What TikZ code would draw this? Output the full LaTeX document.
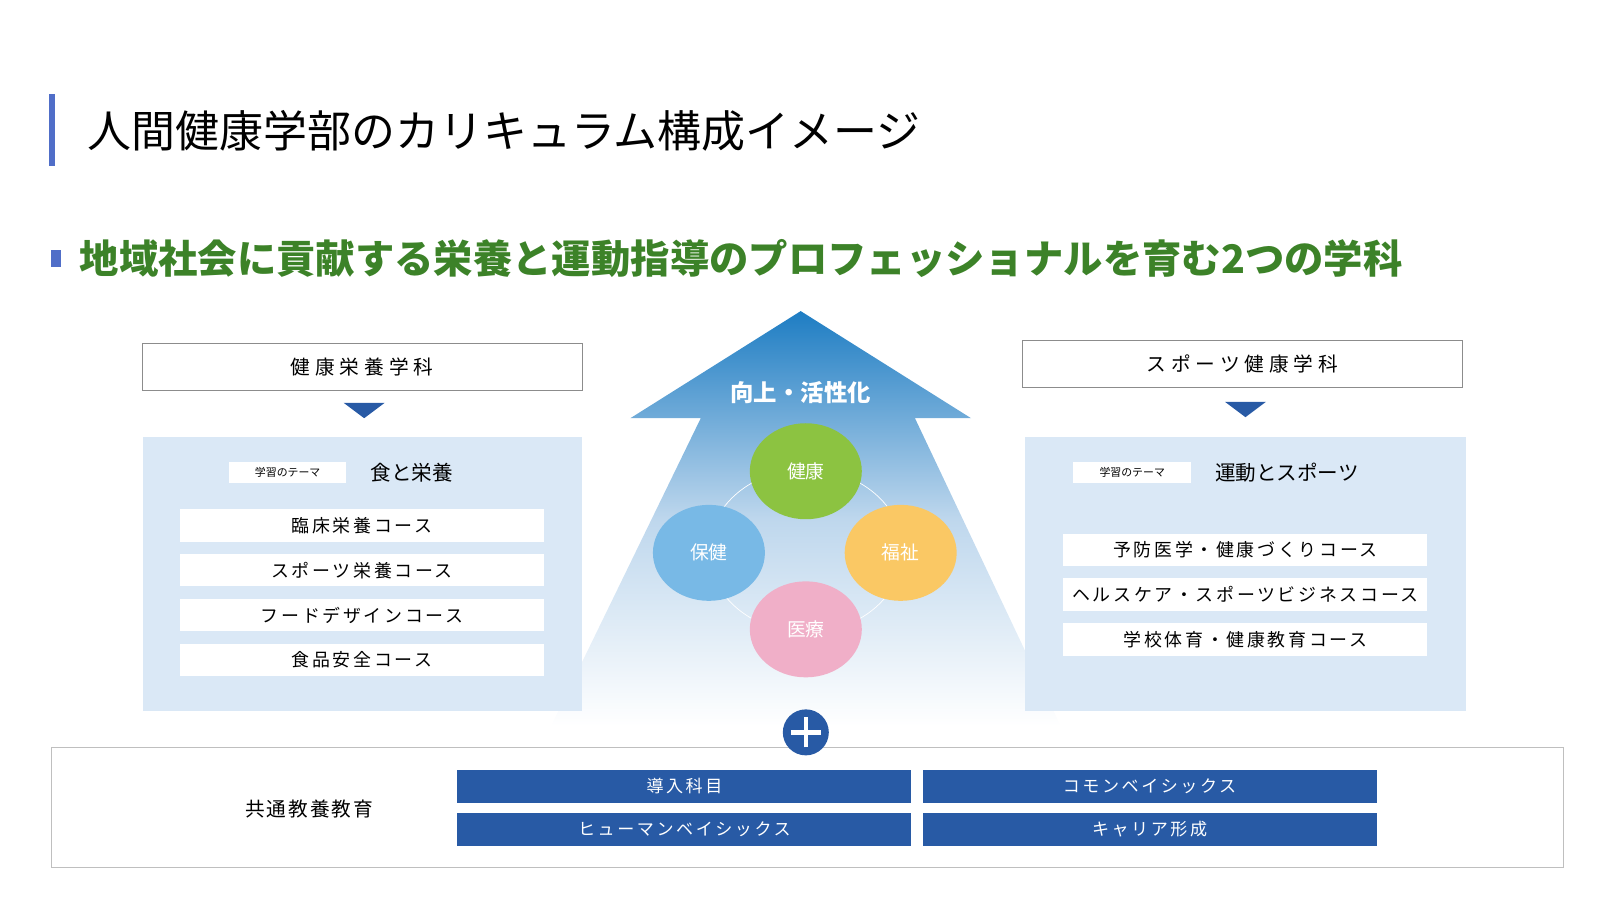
\documentclass[tikz,border=0pt]{standalone}
\usepackage{fontspec}
\setmainfont{Noto Sans CJK JP}
\usetikzlibrary{shapes,arrows,fit,calc,positioning}
\definecolor{barblue}{RGB}{80,110,200}
\definecolor{deepblue}{RGB}{40,90,165}
\definecolor{paleblue}{RGB}{218,232,246}
\definecolor{titlegreen}{RGB}{60,130,40}
\definecolor{ballgreen}{RGB}{140,195,65}
\definecolor{ballblue}{RGB}{120,185,230}
\definecolor{ballorange}{RGB}{250,200,100}
\definecolor{ballpink}{RGB}{240,175,200}
\tikzset{
 dept/.style={draw=black!45,fill=white,minimum width=8.8cm,minimum height=0.94cm,font=\fontsize{11.2}{11.2}\selectfont\addfontfeature{LetterSpace=25}},
 course/.style={fill=white,minimum width=7.28cm,minimum height=0.65cm,inner sep=0pt,font=\fontsize{10.2}{10.2}\selectfont\addfontfeature{LetterSpace=15}},
 tag/.style={fill=white,minimum width=2.35cm,minimum height=0.43cm,inner sep=0pt,font=\fontsize{6.2}{6.2}\selectfont},
 theme/.style={font=\fontsize{11.7}{11.7}\selectfont},
 ball/.style={ellipse,minimum width=2.24cm,minimum height=1.92cm,text=white,font=\fontsize{10.7}{10.7}\selectfont},
 common/.style={fill=deepblue,text=white,minimum width=9.08cm,minimum height=0.67cm,inner sep=0pt,font=\fontsize{9.7}{9.7}\selectfont\addfontfeature{LetterSpace=15}},
 down/.style={fill=deepblue,draw=none}
}
\begin{document}
\begin{tikzpicture}[x=0.0204cm,y=-0.0204cm]
\useasboundingbox (0,0) rectangle (1568.6,882.4);

% タイトル
\fill[barblue] (48,92) rectangle (54,163);
\node[anchor=west,font=\fontsize{25}{25}\selectfont] (title) at (80,128) {人間健康学部のカリキュラム構成イメージ};
\fill[barblue] (50,245) rectangle (60,262);
\node[anchor=west,text=titlegreen,font=\fontsize{22.4}{22.4}\selectfont\bfseries] (subtitle) at (72,253) {地域社会に貢献する栄養と運動指導のプロフェッショナルを育む2つの学科};

% 中央の矢印
\shade[top color={rgb,255:red,30;green,125;blue,195},bottom color=white,middle color={rgb,255:red,190;green,215;blue,237}]
 (785,305) -- (952,410) -- (897,410) -- (1040,712) -- (540,712) -- (687,410) -- (618,410) -- cycle;
\node[text=white,font=\fontsize{13.3}{13.3}\selectfont\bfseries] (rise) at (785,385) {向上・活性化};

% 円
\draw[white,thin] (790,540) ellipse (95 and 80);
\node[ball,fill=ballgreen] (kenko) at (790,462) {健康};
\node[ball,fill=ballblue] (hoken) at (695,542) {保健};
\node[ball,fill=ballorange] (fukushi) at (883,542) {福祉};
\node[ball,fill=ballpink] (iryo) at (790,617) {医療};

% 健康栄養学科
\node[dept] (eiyo) at (355,360) {健康栄養学科};
\fill[paleblue] (140,428) rectangle (571,697);
\node[tag] (tagL) at (282,463) {学習のテーマ};
\node[theme,right=0.35cm of tagL] (themeL) {食と栄養};
\foreach \yy/\tt in {515/臨床栄養コース,559/スポーツ栄養コース,603/フードデザインコース,647/食品安全コース}{
\node[course] at (355,\yy) {\tt};
}
\coordinate (triL) at (357,410);
\fill[down] (triL) -- ++(-20,-15) -- ++(40,0) -- cycle;

% スポーツ健康学科
\node[dept] (sports) at (1218,357) {スポーツ健康学科};
\fill[paleblue] (1005,428) rectangle (1437,697);
\node[tag] (tagR) at (1110,463) {学習のテーマ};
\node[theme,right=0.35cm of tagR] (themeR) {運動とスポーツ};
\foreach \yy/\tt in {539/予防医学・健康づくりコース,583/ヘルスケア・スポーツビジネスコース,627/学校体育・健康教育コース}{
\node[course] at (1221,\yy) {\tt};
}
\coordinate (triR) at (1221,409);
\fill[down] (triR) -- ++(-20,-15) -- ++(40,0) -- cycle;

% 共通教養教育
\draw[black!25,fill=white] (50,733) rectangle (1533,850);
\node[font=\fontsize{11.2}{11.2}\selectfont\addfontfeature{LetterSpace=10}] (kyoyo) at (303,793) {共通教養教育};
\node[common] (c1) at (671,771) {導入科目};
\node[common] (c2) at (1127,771) {コモンベイシックス};
\node[common] (c3) at (671,813) {ヒューマンベイシックス};
\node[common] (c4) at (1127,813) {キャリア形成};

% プラス
\node[circle,fill=deepblue,minimum size=0.92cm] (plus) at (790,718) {};
\draw[white,line width=2.5pt] ([xshift=-0.3cm]plus.center) -- ([xshift=0.3cm]plus.center);
\draw[white,line width=2.5pt] ([yshift=-0.3cm]plus.center) -- ([yshift=0.3cm]plus.center);
\end{tikzpicture}
\end{document}
